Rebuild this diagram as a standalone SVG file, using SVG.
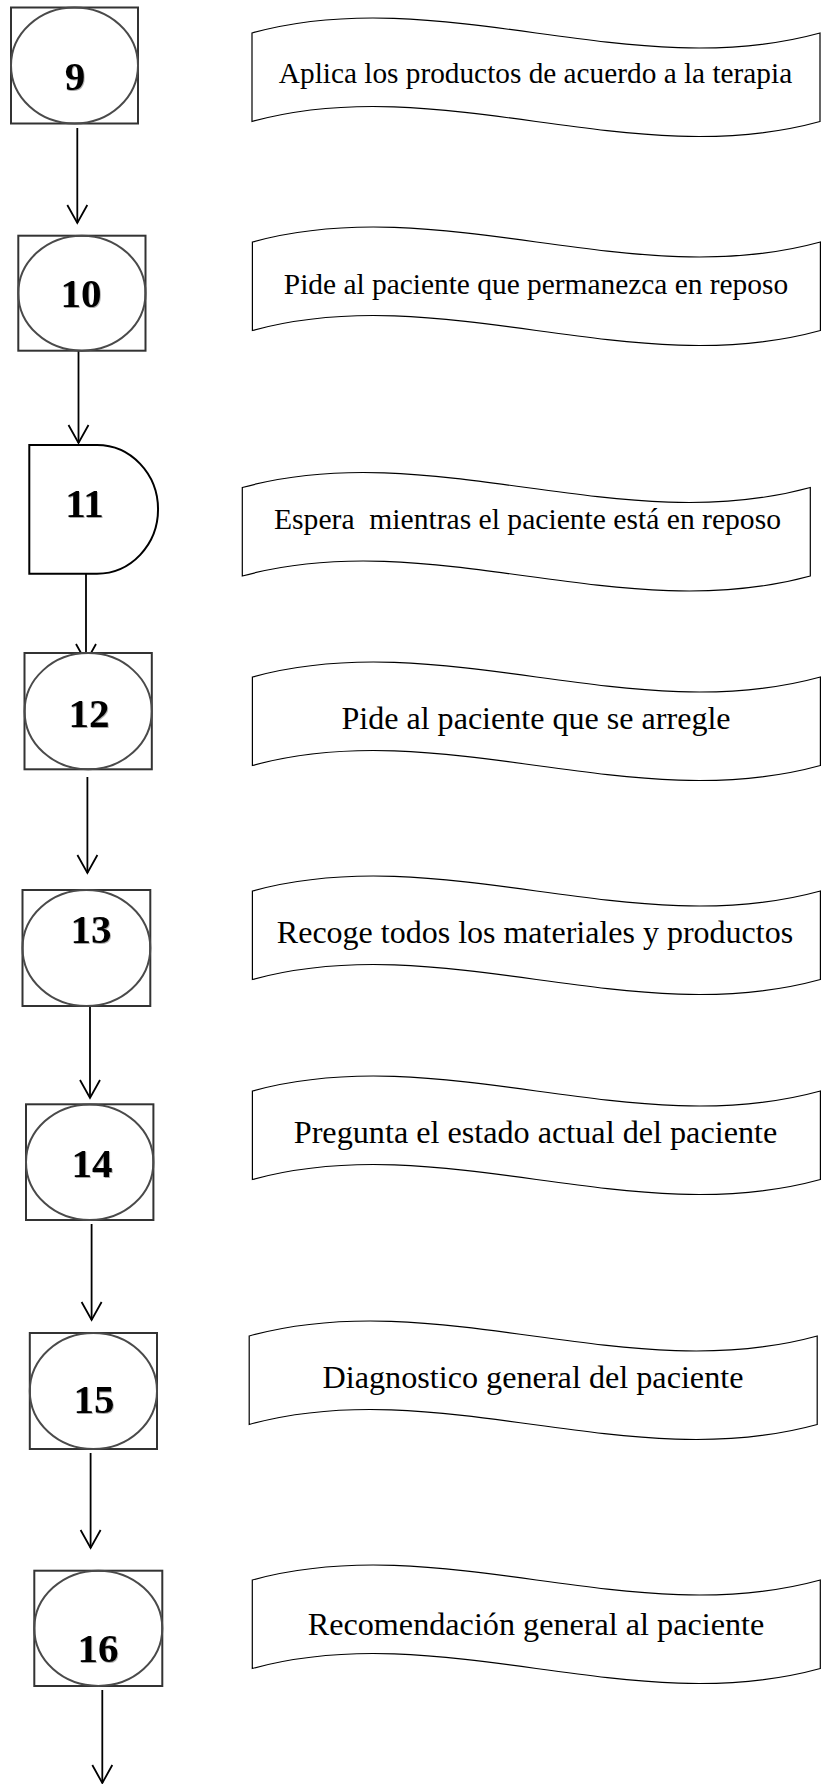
<svg xmlns="http://www.w3.org/2000/svg" xmlns:xlink="http://www.w3.org/1999/xlink" width="821" height="1784" viewBox="0 0 821 1784">
  <style>
    .box { fill: #ffffff; stroke: #333333; stroke-width: 2; }
    .oval { fill: none; stroke: #4a4a4a; stroke-width: 2; }
    .delay { fill: #ffffff; stroke: #000000; stroke-width: 2; }
    .num { font-family: "Liberation Serif", "Times New Roman", serif; font-weight: bold; font-size: 41px; fill: #000000; text-anchor: middle; filter: url(#soft); }
    .tape { fill: #ffffff; stroke: #000000; stroke-width: 1.2; }
    .lbl { font-family: "Liberation Serif", "Times New Roman", serif; fill: #000000; text-anchor: middle; white-space: pre; }
    .flow { stroke: #000000; stroke-width: 1.8; fill: none; marker-end: url(#head); }
  </style>
  <defs>
    <!-- open V arrowhead -->
    <marker id="head" markerUnits="userSpaceOnUse" markerWidth="30" markerHeight="30" refX="0" refY="0" orient="auto" overflow="visible">
      <path d="M-18,-10 L0,0 L-18,10" fill="none" stroke="#000000" stroke-width="1.8"/>
    </marker>
    <!-- punched-tape banner, 568 wide -->
    <path id="tape" d="M0,0 C189,-52 379,52 568,0 L568,88.5 C379,140.5 189,36.5 0,88.5 Z"/>
    <filter id="soft" x="-20%" y="-20%" width="140%" height="140%">
      <feDropShadow dx="0.8" dy="1" stdDeviation="0.7" flood-color="#000000" flood-opacity="0.35"/>
    </filter>
  </defs>

  <rect width="821" height="1784" fill="#ffffff"/>

  <!-- connectors -->
  <g id="connectors">
    <line class="flow" x1="77.3" y1="128" x2="77.3" y2="223"/>
    <line class="flow" x1="78.5" y1="351" x2="78.5" y2="443"/>
    <line class="flow" x1="86" y1="567" x2="86" y2="662"/>
    <line class="flow" x1="87.4" y1="777" x2="87.4" y2="873"/>
    <line class="flow" x1="90" y1="1006" x2="90" y2="1098"/>
    <line class="flow" x1="91.6" y1="1224" x2="91.6" y2="1320"/>
    <line class="flow" x1="90.6" y1="1453" x2="90.6" y2="1548"/>
    <line class="flow" x1="102.3" y1="1690" x2="102.3" y2="1783"/>
  </g>

  <!-- step 9 -->
  <g id="step9">
    <rect class="box" x="11" y="7.5" width="127" height="116"/>
    <ellipse class="oval" cx="74.5" cy="65.5" rx="63.5" ry="58"/>
    <text class="num" x="75" y="90">9</text>
  </g>
  <g id="note9">
    <use xlink:href="#tape" class="tape" x="252" y="33"/>
    <text class="lbl" x="535.5" y="83" font-size="29.3">Aplica los productos de acuerdo a la terapia</text>
  </g>

  <!-- step 10 -->
  <g id="step10">
    <rect class="box" x="18.3" y="235.7" width="127.2" height="115"/>
    <ellipse class="oval" cx="81.9" cy="293.2" rx="63.6" ry="57.5"/>
    <text class="num" x="81" y="306.7">10</text>
  </g>
  <g id="note10">
    <use xlink:href="#tape" class="tape" x="252.4" y="242"/>
    <text class="lbl" x="536" y="294" font-size="29.4">Pide al paciente que permanezca en reposo</text>
  </g>

  <!-- step 11 (delay) -->
  <g id="step11">
    <path class="delay" d="M29.3,445 H97 A61,64.3 0 0 1 97,573.7 H29.3 Z"/>
    <text class="num" x="84.5" y="517">11</text>
  </g>
  <g id="note11">
    <use xlink:href="#tape" class="tape" x="242.3" y="487.5"/>
    <text class="lbl" x="527.5" y="529.3" font-size="29.6">Espera  mientras el paciente está en reposo</text>
  </g>

  <!-- step 12 -->
  <g id="step12">
    <rect class="box" x="24.5" y="653" width="127.3" height="116.3"/>
    <ellipse class="oval" cx="88.2" cy="711.2" rx="63.6" ry="58.1"/>
    <text class="num" x="89" y="726.7">12</text>
  </g>
  <g id="note12">
    <use xlink:href="#tape" class="tape" x="252.4" y="677"/>
    <text class="lbl" x="536" y="729.3" font-size="32.1">Pide al paciente que se arregle</text>
  </g>

  <!-- step 13 -->
  <g id="step13">
    <rect class="box" x="22.5" y="890" width="127.8" height="116"/>
    <ellipse class="oval" cx="86.4" cy="948" rx="63.9" ry="58"/>
    <text class="num" x="91" y="942.7">13</text>
  </g>
  <g id="note13">
    <use xlink:href="#tape" class="tape" x="252.4" y="891"/>
    <text class="lbl" x="535" y="943.3" font-size="32">Recoge todos los materiales y productos</text>
  </g>

  <!-- step 14 -->
  <g id="step14">
    <rect class="box" x="26" y="1104.3" width="127.4" height="115.7"/>
    <ellipse class="oval" cx="89.7" cy="1162.2" rx="63.7" ry="57.8"/>
    <text class="num" x="92" y="1177">14</text>
  </g>
  <g id="note14">
    <use xlink:href="#tape" class="tape" x="252.4" y="1091"/>
    <text class="lbl" x="535.5" y="1143.3" font-size="32.2">Pregunta el estado actual del paciente</text>
  </g>

  <!-- step 15 -->
  <g id="step15">
    <rect class="box" x="29.8" y="1333" width="127.2" height="116"/>
    <ellipse class="oval" cx="93.4" cy="1391" rx="63.6" ry="58"/>
    <text class="num" x="94" y="1412.7">15</text>
  </g>
  <g id="note15">
    <use xlink:href="#tape" class="tape" x="249.2" y="1336"/>
    <text class="lbl" x="533" y="1388.3" font-size="32.2">Diagnostico general del paciente</text>
  </g>

  <!-- step 16 -->
  <g id="step16">
    <rect class="box" x="34.3" y="1570.7" width="128" height="115.3"/>
    <ellipse class="oval" cx="98.3" cy="1628.3" rx="64" ry="57.6"/>
    <text class="num" x="98" y="1661.7">16</text>
  </g>
  <g id="note16">
    <use xlink:href="#tape" class="tape" x="252.3" y="1580"/>
    <text class="lbl" x="536" y="1635" font-size="32.2">Recomendación general al paciente</text>
  </g>
</svg>
